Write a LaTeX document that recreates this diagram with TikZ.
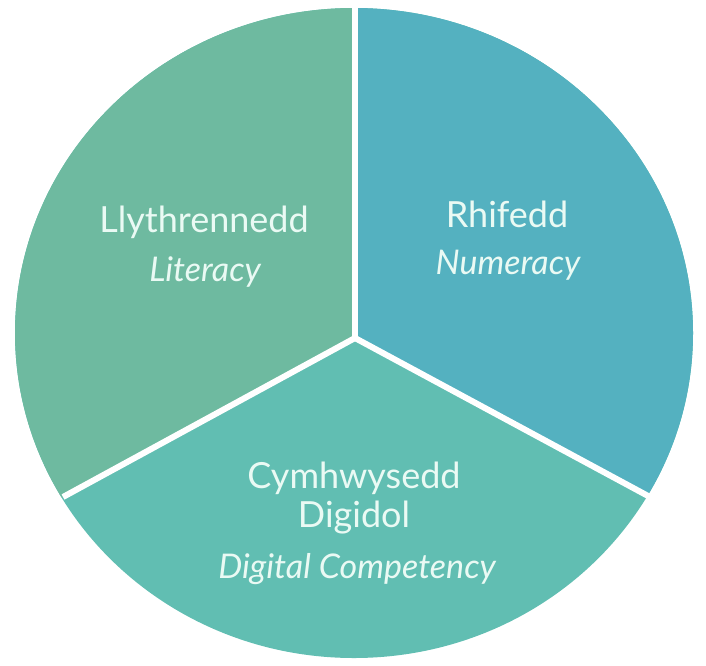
\documentclass[tikz,border=0pt]{standalone}
\usepackage{fontspec}
\setmainfont{Lato}
\usepackage{tikz}
\definecolor{litgreen}{RGB}{110,186,160}
\definecolor{numblue}{RGB}{84,177,192}
\definecolor{diggreen}{RGB}{97,190,178}
\definecolor{pale}{RGB}{234,250,244}
\tikzset{
	welsh/.style={text=pale,font=\fontsize{36}{42}\selectfont,inner sep=0pt},
	english/.style={welsh,font=\fontsize{34}{40}\selectfont\itshape}
}

\begin{document}
\begin{tikzpicture}[x=1pt,y=-1pt]
	\useasboundingbox (0,0) rectangle (706,665);
	\coordinate (centre) at (355,338);
	\coordinate (top) at (355,8);
	\coordinate (lowleft) at (63,497);
	\coordinate (lowright) at (650,497);
	% the pie
	\fill[diggreen] (354,333) ellipse [x radius=339,y radius=325];
	\begin{scope}
		\clip (354,333) ellipse [x radius=339,y radius=325];
		\fill[litgreen] (centre) -- (355,0) -- (0,0) -- (0,531) -- cycle;
		\fill[numblue] (centre) -- (355,0) -- (706,0) -- (706,527) -- cycle;
	\end{scope}
	\foreach \p in {top,lowleft,lowright}{
		\draw[white,line width=6pt] (centre) -- (\p);
	}
	% texts
	\node[welsh] (llyth) at (204,222) {Llythrennedd};
	\node[english] (lit) at (205,272) {Literacy};
	\node[welsh] (rhif) at (507,214) {Rhifedd};
	\node[english] (num) at (508,265) {Numeracy};
	\node[welsh] (cymh) at (354,478) {Cymhwysedd};
	\node[welsh] (digi) at (354,518) {Digidol};
	\node[english] (digcomp) at (357,569) {Digital Competency};
\end{tikzpicture}
\end{document}
